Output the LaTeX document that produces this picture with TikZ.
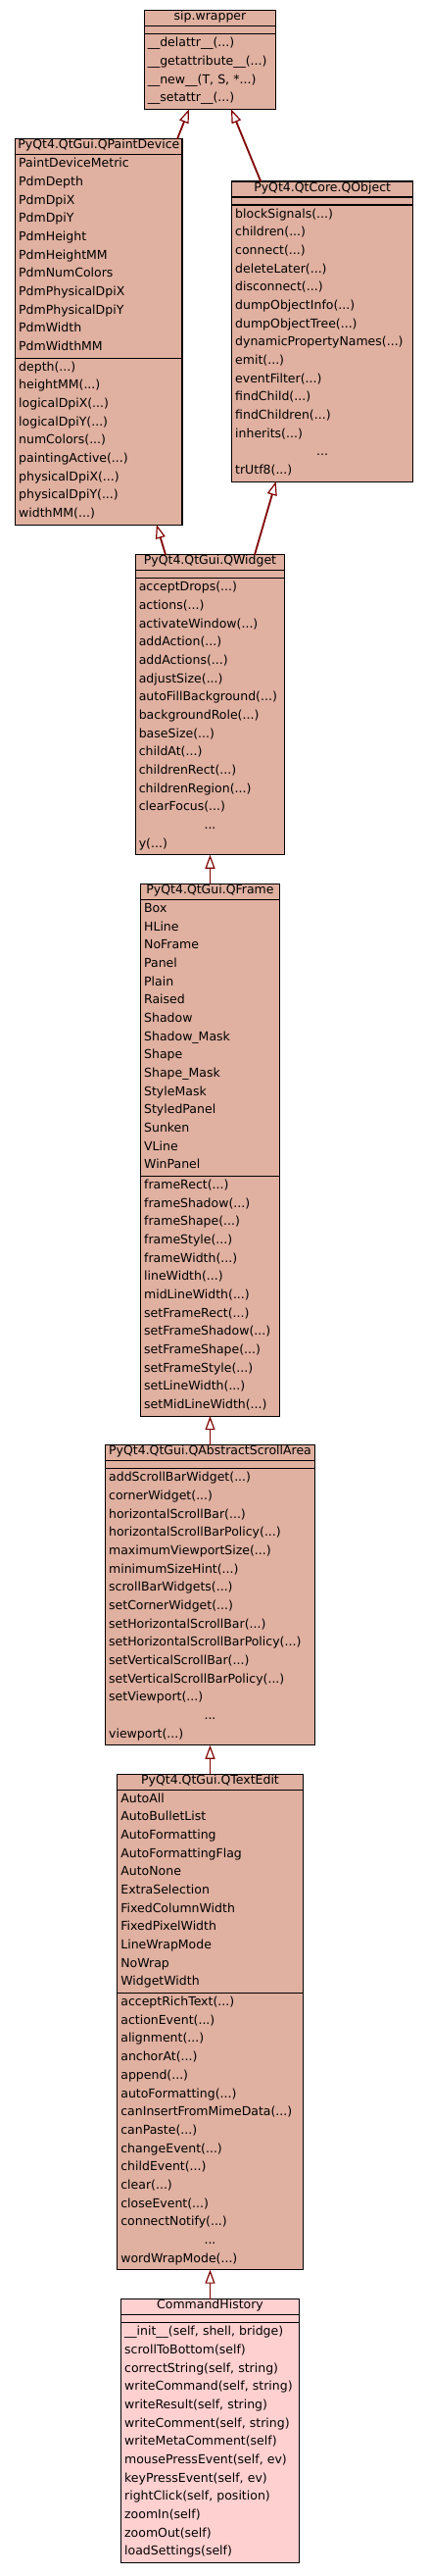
\documentclass[tikz,border=0pt]{standalone}
\usepackage{fontspec}
\setmainfont{DejaVu Sans}
\usetikzlibrary{arrows.meta,positioning}
\definecolor{basebg}{HTML}{E0B0A0}
\definecolor{selectbg}{HTML}{FFD0D0}
\definecolor{inhlink}{HTML}{800000}
\newcommand{\rowstrut}{\rule[-6.67pt]{0pt}{18.67pt}}
\newcommand{\titlestrut}{\rule[-6pt]{0pt}{16pt}}
\newcommand{\elided}{\makebox[\hsize]{...}}

\begin{document}
\begin{tikzpicture}[
    x=1pt, y=1pt,
    every node/.style={font=\fontsize{12.5}{18.67}\selectfont, outer sep=0pt, draw=black, line width=1.1pt, fill=basebg},
    titlebox/.style={inner xsep=0pt, inner ysep=0pt, execute at begin node=\titlestrut},
    emptybox/.style={minimum height=8pt, inner sep=0pt},
    bodybox/.style={align=left, inner xsep=3.5pt, inner ysep=1pt, execute at begin node=\rowstrut, execute at end node=\rowstrut},
    inherit/.style={draw=inhlink, line width=1.8pt, -{Triangle[open, length=14pt, width=10pt, line width=1.2pt]}}
]
\fill[white] (0,0) rectangle (437,-2627);
\useasboundingbox (0,0) rectangle (437,-2627);

% sip.wrapper
\node[titlebox, minimum width=134.4pt, anchor=north] (wrapper) at (214.5,-10.7) {sip.wrapper};
\node[emptybox, minimum width=134.4pt, below=0pt of wrapper] (wrapper_attrs) {};
\node[bodybox, text width=127.4pt, below=0pt of wrapper_attrs] (wrapper_meths) {\_\_delattr\_\_(...)\\\_\_getattribute\_\_(...)\\\_\_new\_\_(T, S, *...)\\\_\_setattr\_\_(...)};

% QPaintDevice
\node[titlebox, minimum width=170.3pt, anchor=north] (pdev) at (100.85,-141.7) {PyQt4.QtGui.QPaintDevice};
\node[bodybox, text width=163.3pt, below=0pt of pdev] (pdev_attrs) {PaintDeviceMetric\\PdmDepth\\PdmDpiX\\PdmDpiY\\PdmHeight\\PdmHeightMM\\PdmNumColors\\PdmPhysicalDpiX\\PdmPhysicalDpiY\\PdmWidth\\PdmWidthMM};
\node[bodybox, text width=163.3pt, below=0pt of pdev_attrs] (pdev_meths) {depth(...)\\heightMM(...)\\logicalDpiX(...)\\logicalDpiY(...)\\numColors(...)\\paintingActive(...)\\physicalDpiX(...)\\physicalDpiY(...)\\widthMM(...)};

% QObject
\node[titlebox, minimum width=185pt, anchor=north] (qobject) at (329.2,-185) {PyQt4.QtCore.QObject};
\node[emptybox, minimum width=185pt, below=0pt of qobject] (qobject_attrs) {};
\node[bodybox, text width=178pt, below=0pt of qobject_attrs] (qobject_meths) {blockSignals(...)\\children(...)\\connect(...)\\deleteLater(...)\\disconnect(...)\\dumpObjectInfo(...)\\dumpObjectTree(...)\\dynamicPropertyNames(...)\\emit(...)\\eventFilter(...)\\findChild(...)\\findChildren(...)\\inherits(...)\\\elided\\trUtf8(...)};

% QWidget
\node[titlebox, minimum width=152.4pt, anchor=north] (qwidget) at (214.5,-565.7) {PyQt4.QtGui.QWidget};
\node[emptybox, minimum width=152.4pt, below=0pt of qwidget] (qwidget_attrs) {};
\node[bodybox, text width=145.4pt, below=0pt of qwidget_attrs] (qwidget_meths) {acceptDrops(...)\\actions(...)\\activateWindow(...)\\addAction(...)\\addActions(...)\\adjustSize(...)\\autoFillBackground(...)\\backgroundRole(...)\\baseSize(...)\\childAt(...)\\childrenRect(...)\\childrenRegion(...)\\clearFocus(...)\\\elided\\y(...)};

% QFrame
\node[titlebox, minimum width=141.7pt, below=29.7pt of qwidget_meths] (qframe) {PyQt4.QtGui.QFrame};
\node[bodybox, text width=134.7pt, below=0pt of qframe] (qframe_attrs) {Box\\HLine\\NoFrame\\Panel\\Plain\\Raised\\Shadow\\Shadow\_Mask\\Shape\\Shape\_Mask\\StyleMask\\StyledPanel\\Sunken\\VLine\\WinPanel};
\node[bodybox, text width=134.7pt, below=0pt of qframe_attrs] (qframe_meths) {frameRect(...)\\frameShadow(...)\\frameShape(...)\\frameStyle(...)\\frameWidth(...)\\lineWidth(...)\\midLineWidth(...)\\setFrameRect(...)\\setFrameShadow(...)\\setFrameShape(...)\\setFrameStyle(...)\\setLineWidth(...)\\setMidLineWidth(...)};

% QAbstractScrollArea
\node[titlebox, minimum width=213.7pt, below=29.5pt of qframe_meths] (scrollarea) {PyQt4.QtGui.QAbstractScrollArea};
\node[emptybox, minimum width=213.7pt, below=0pt of scrollarea] (scrollarea_attrs) {};
\node[bodybox, text width=206.7pt, below=0pt of scrollarea_attrs] (scrollarea_meths) {addScrollBarWidget(...)\\cornerWidget(...)\\horizontalScrollBar(...)\\horizontalScrollBarPolicy(...)\\maximumViewportSize(...)\\minimumSizeHint(...)\\scrollBarWidgets(...)\\setCornerWidget(...)\\setHorizontalScrollBar(...)\\setHorizontalScrollBarPolicy(...)\\setVerticalScrollBar(...)\\setVerticalScrollBarPolicy(...)\\setViewport(...)\\\elided\\viewport(...)};

% QTextEdit
\node[titlebox, minimum width=189.3pt, below=29.5pt of scrollarea_meths] (textedit) {PyQt4.QtGui.QTextEdit};
\node[bodybox, text width=182.3pt, below=0pt of textedit] (textedit_attrs) {AutoAll\\AutoBulletList\\AutoFormatting\\AutoFormattingFlag\\AutoNone\\ExtraSelection\\FixedColumnWidth\\FixedPixelWidth\\LineWrapMode\\NoWrap\\WidgetWidth};
\node[bodybox, text width=182.3pt, below=0pt of textedit_attrs] (textedit_meths) {acceptRichText(...)\\actionEvent(...)\\alignment(...)\\anchorAt(...)\\append(...)\\autoFormatting(...)\\canInsertFromMimeData(...)\\canPaste(...)\\changeEvent(...)\\childEvent(...)\\clear(...)\\closeEvent(...)\\connectNotify(...)\\\elided\\wordWrapMode(...)};

% CommandHistory
\node[titlebox, fill=selectbg, minimum width=181.7pt, below=30pt of textedit_meths] (history) {CommandHistory};
\node[emptybox, fill=selectbg, minimum width=181.7pt, below=0pt of history] (history_attrs) {};
\node[bodybox, fill=selectbg, text width=174.7pt, below=0pt of history_attrs] (history_meths) {\_\_init\_\_(self, shell, bridge)\\scrollToBottom(self)\\correctString(self, string)\\writeCommand(self, string)\\writeResult(self, string)\\writeComment(self, string)\\writeMetaComment(self)\\mousePressEvent(self, ev)\\keyPressEvent(self, ev)\\rightClick(self, position)\\zoomIn(self)\\zoomOut(self)\\loadSettings(self)};

% inheritance links
\draw[inherit] ([xshift=-5pt]pdev.north east) -- ([xshift=-21.5pt]wrapper_meths.south);
\draw[inherit] ([xshift=-63pt]qobject.north) -- ([xshift=21.5pt]wrapper_meths.south);
\draw[inherit] ([xshift=-45.5pt]qwidget.north) -- ([xshift=59pt]pdev_meths.south);
\draw[inherit] ([xshift=45.5pt]qwidget.north) -- ([xshift=-47.5pt]qobject_meths.south);
\draw[inherit] (qframe.north) -- (qframe.north |- qwidget_meths.south);
\draw[inherit] (scrollarea.north) -- (scrollarea.north |- qframe_meths.south);
\draw[inherit] (textedit.north) -- (textedit.north |- scrollarea_meths.south);
\draw[inherit] (history.north) -- (history.north |- textedit_meths.south);

\end{tikzpicture}
\end{document}
